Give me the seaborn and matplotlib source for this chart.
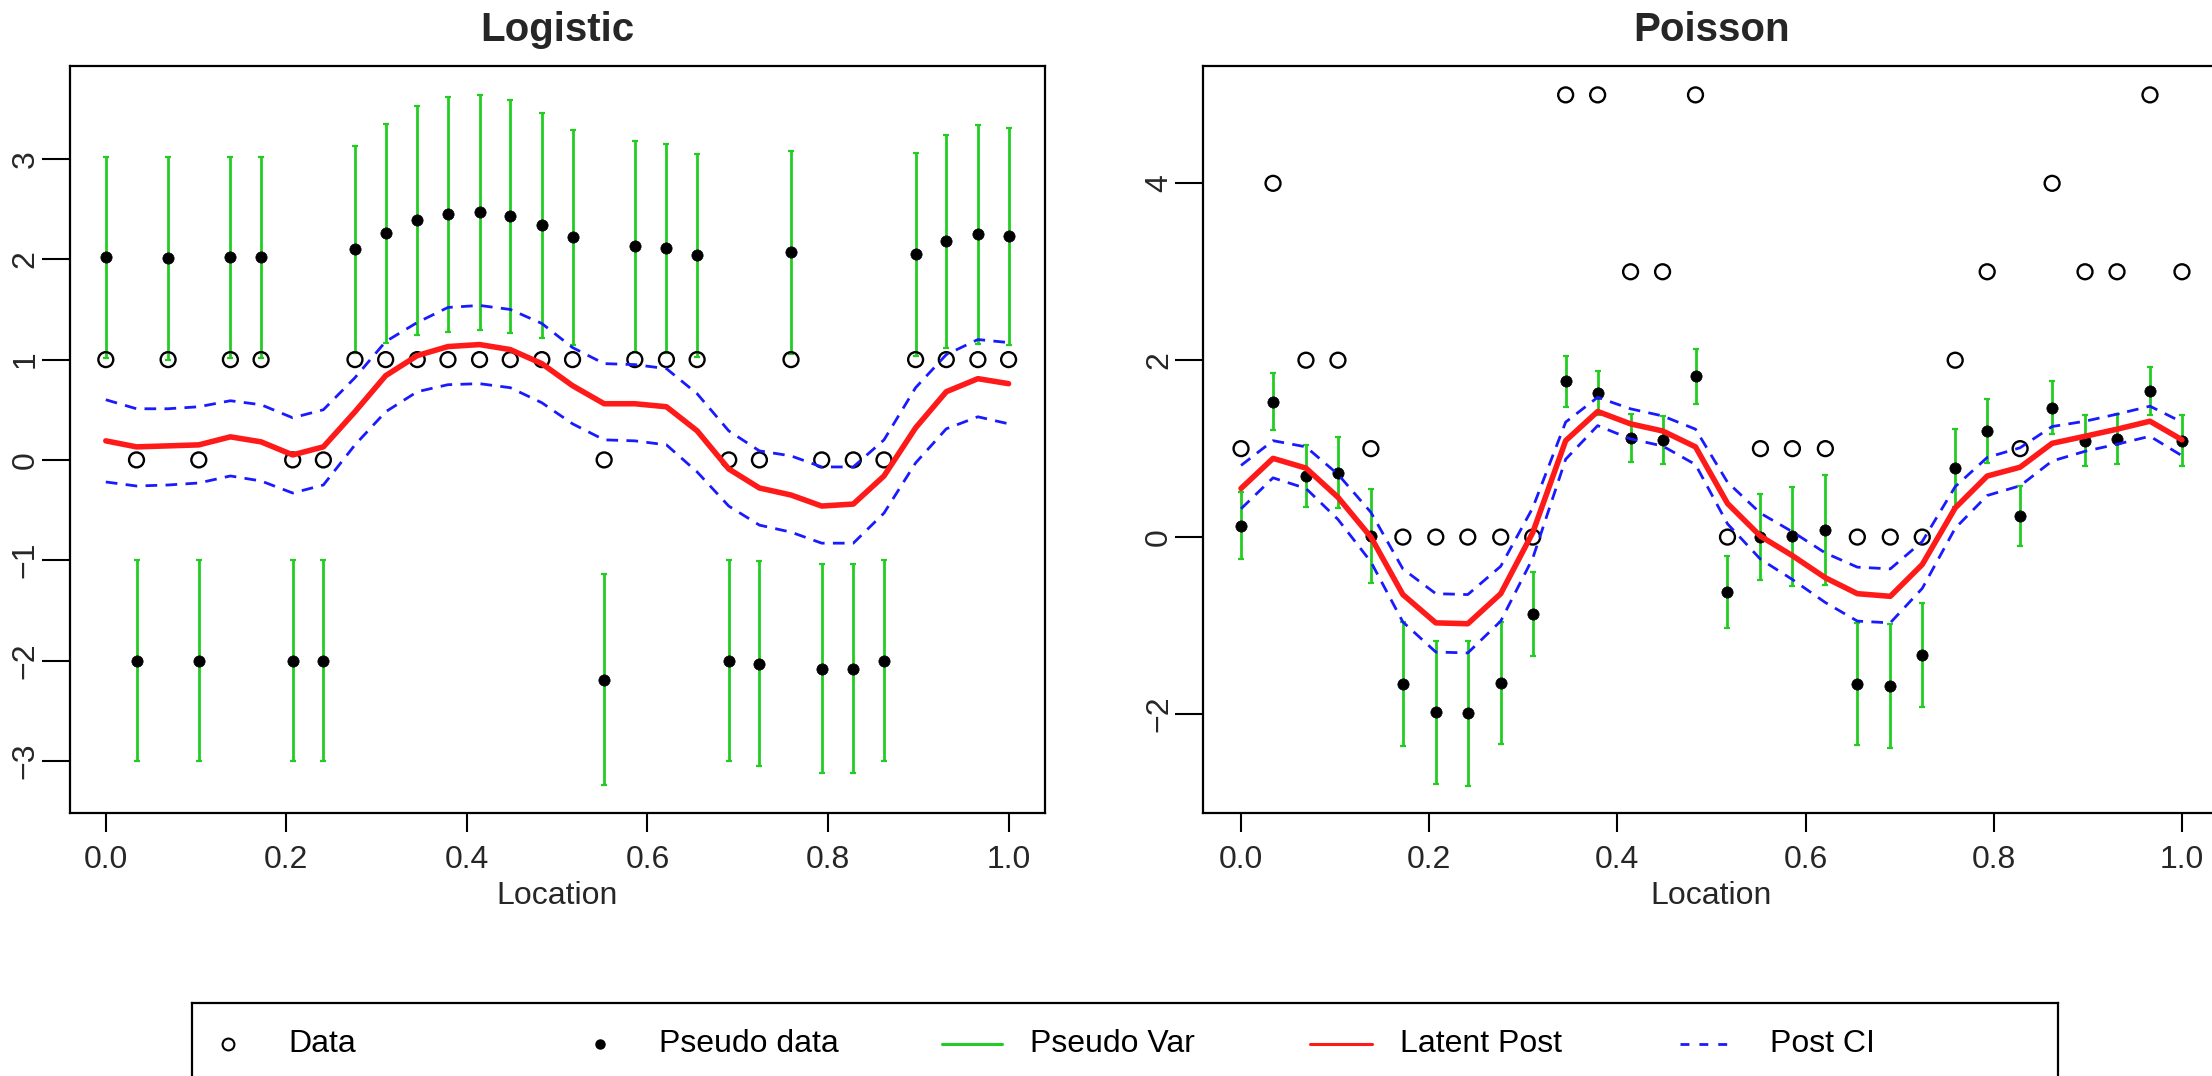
import numpy as np
import pandas as pd
import matplotlib
matplotlib.use("Agg")
import matplotlib.pyplot as plt
import seaborn as sns

# ---------------- data ----------------
location = [0.000, 0.034, 0.069, 0.103, 0.138, 0.172, 0.207, 0.241, 0.276, 0.310,
            0.345, 0.379, 0.414, 0.448, 0.483, 0.517, 0.552, 0.586, 0.621, 0.655,
            0.690, 0.724, 0.759, 0.793, 0.828, 0.862, 0.897, 0.931, 0.966, 1.000]

log_data = [1, 0, 1, 0, 1, 1, 0, 0, 1, 1, 1, 1, 1, 1, 1, 1, 0, 1, 1, 1,
            0, 0, 1, 0, 0, 0, 1, 1, 1, 1]
log_pseudo = [2.02, -2.00, 2.01, -2.00, 2.02, 2.02, -2.00, -2.00, 2.10, 2.26,
              2.39, 2.45, 2.47, 2.43, 2.34, 2.22, -2.19, 2.13, 2.11, 2.04,
              -2.00, -2.03, 2.07, -2.08, -2.08, -2.00, 2.05, 2.18, 2.25, 2.23]
log_pseudo_sd = [1.00, 1.00, 1.01, 1.00, 1.00, 1.00, 1.00, 1.00, 1.03, 1.09,
                 1.14, 1.17, 1.17, 1.16, 1.12, 1.07, 1.05, 1.05, 1.04, 1.01,
                 1.00, 1.02, 1.01, 1.04, 1.04, 1.00, 1.01, 1.06, 1.09, 1.08]
log_latent = [0.19, 0.13, 0.14, 0.15, 0.23, 0.18, 0.05, 0.13, 0.48, 0.84,
              1.04, 1.13, 1.15, 1.10, 0.96, 0.74, 0.56, 0.56, 0.53, 0.29,
              -0.09, -0.28, -0.35, -0.46, -0.44, -0.16, 0.32, 0.68, 0.81, 0.76]
log_upper = [0.60, 0.51, 0.51, 0.53, 0.59, 0.55, 0.42, 0.50, 0.82, 1.18,
             1.37, 1.52, 1.54, 1.50, 1.36, 1.12, 0.96, 0.95, 0.91, 0.66,
             0.29, 0.09, 0.04, -0.07, -0.07, 0.20, 0.72, 1.05, 1.20, 1.17]
log_lower = [-0.22, -0.26, -0.25, -0.23, -0.16, -0.21, -0.33, -0.25, 0.15, 0.48,
             0.68, 0.75, 0.76, 0.72, 0.57, 0.36, 0.20, 0.19, 0.15, -0.12,
             -0.46, -0.65, -0.72, -0.83, -0.83, -0.53, -0.03, 0.31, 0.43, 0.36]

poi_data = [1, 4, 2, 2, 1, 0, 0, 0, 0, 0, 5, 5, 3, 3, 5, 0, 1, 1, 1, 0,
            0, 0, 2, 3, 1, 4, 3, 3, 5, 3]
poi_pseudo = [0.13, 1.53, 0.69, 0.73, 0.01, -1.66, -1.98, -1.99, -1.65, -0.87,
              1.76, 1.63, 1.12, 1.10, 1.82, -0.62, 0.00, 0.01, 0.08, -1.66,
              -1.68, -1.33, 0.78, 1.20, 0.24, 1.46, 1.09, 1.11, 1.65, 1.09]
poi_pseudo_sd = [0.38, 0.32, 0.35, 0.40, 0.53, 0.70, 0.81, 0.82, 0.69, 0.47,
                 0.29, 0.25, 0.27, 0.27, 0.31, 0.41, 0.49, 0.56, 0.62, 0.69,
                 0.70, 0.59, 0.44, 0.36, 0.34, 0.30, 0.29, 0.28, 0.27, 0.29]
poi_latent = [0.55, 0.89, 0.78, 0.45, 0.00, -0.65, -0.97, -0.98, -0.64, 0.05,
              1.09, 1.42, 1.28, 1.20, 1.02, 0.38, 0.01, -0.21, -0.46, -0.64,
              -0.67, -0.31, 0.33, 0.69, 0.79, 1.06, 1.14, 1.22, 1.31, 1.10]
poi_upper = [0.81, 1.09, 1.02, 0.71, 0.28, -0.36, -0.64, -0.65, -0.33, 0.33,
             1.30, 1.58, 1.45, 1.37, 1.22, 0.62, 0.27, 0.06, -0.18, -0.34,
             -0.36, -0.05, 0.57, 0.90, 1.01, 1.25, 1.31, 1.39, 1.48, 1.30]
poi_lower = [0.32, 0.67, 0.55, 0.20, -0.28, -0.96, -1.30, -1.31, -0.95, -0.24,
             0.88, 1.26, 1.11, 1.03, 0.82, 0.15, -0.25, -0.48, -0.74, -0.95,
             -0.97, -0.58, 0.10, 0.47, 0.58, 0.86, 0.97, 1.05, 1.14, 0.92]

x_ticks = [0.0, 0.2, 0.4, 0.6, 0.8, 1.0]
x_tick_labels = ["0.0", "0.2", "0.4", "0.6", "0.8", "1.0"]
log_y_ticks = [-3, -2, -1, 0, 1, 2, 3]
poi_y_ticks = [-2, 0, 2, 4]
legend_labels = ["Data", "Pseudo data", "Pseudo Var", "Latent Post", "Post CI"]

# ---------------- style ----------------
sns.set_style("ticks")
plt.rcParams["font.family"] = ["Liberation Sans", "DejaVu Sans"]
plt.rcParams["axes.linewidth"] = 1.6
plt.rcParams["axes.edgecolor"] = "black"

GREEN = "#22CC22"
RED = "#FF1A1A"
BLUE = "#1A1AFF"

W, H = 2212, 1076
fig = plt.figure(figsize=(W / 100, H / 100), dpi=100)


def px_axes(left, right, top, bottom):
    return fig.add_axes([left / W, (H - bottom) / H, (right - left) / W, (bottom - top) / H])


def minus(v):
    return str(v).replace("-", "\u2212")


def panel(ax, data, pseudo, sd, latent, lower, upper, title, ylim, yticks):
    df = pd.DataFrame({"loc": location, "data": data, "pseudo": pseudo, "sd": sd,
                       "latent": latent, "lower": lower, "upper": upper})
    sns.scatterplot(data=df, x="loc", y="data", marker="o", s=115,
                    facecolor="none", edgecolor="black", linewidth=1.7,
                    ax=ax, zorder=3, legend=False)
    ax.errorbar(df["loc"], df["pseudo"], yerr=df["sd"], fmt="none", ecolor=GREEN,
                elinewidth=2.0, capsize=2.2, capthick=1.6, zorder=2)
    sns.scatterplot(data=df, x="loc", y="pseudo", marker="o", s=66, color="black",
                    edgecolor="black", linewidth=0.5, ax=ax, zorder=4, legend=False)
    sns.lineplot(data=df, x="loc", y="latent", color=RED, linewidth=4.0, ax=ax,
                 sort=False, estimator=None, errorbar=None, zorder=5, legend=False)
    for col in ["upper", "lower"]:
        sns.lineplot(data=df, x="loc", y=col, color=BLUE, linewidth=2.0,
                     linestyle=(0, (4.2, 3.0)), ax=ax, sort=False, estimator=None,
                     errorbar=None, zorder=5, legend=False)
    ax.set_xlim(-0.04, 1.04)
    ax.set_ylim(*ylim)
    ax.set_xticks(x_ticks)
    ax.set_xticklabels(x_tick_labels)
    ax.set_yticks(yticks)
    ax.set_yticklabels([minus(v) for v in yticks], rotation=90, va="center")
    ax.tick_params(axis="x", length=14, width=1.5, labelsize=23, pad=9, color="black")
    ax.tick_params(axis="y", length=20, width=1.5, labelsize=23, pad=1, color="black")
    ax.set_xlabel("Location", fontsize=23, labelpad=4)
    ax.set_ylabel("")
    ax.set_title(title, fontsize=29, fontweight="bold", pad=18)
    for s in ax.spines.values():
        s.set_visible(True)
        s.set_linewidth(1.6)
        s.set_color("black")


ax1 = px_axes(69.7, 1044.7, 65.7, 813)
panel(ax1, log_data, log_pseudo, log_pseudo_sd, log_latent, log_lower, log_upper,
      "Logistic", (-3.52, 3.93), log_y_ticks)

ax2 = px_axes(1203.4, 2219.6, 65.7, 813)
panel(ax2, poi_data, poi_pseudo, poi_pseudo_sd, poi_latent, poi_lower, poi_upper,
      "Poisson", (-3.12, 5.33), poi_y_ticks)

# ---------------- legend (drawn in a pixel-coordinate box) ----------------
lax = fig.add_axes([192 / W, -0.1, (2058 - 192) / W, 0.1 + (H - 1003) / H])
lax.set_xlim(192, 2058)
lax.set_ylim(-0.1 * H, H - 1003)
lax.set_xticks([])
lax.set_yticks([])
lax.set_facecolor("white")
for s in lax.spines.values():
    s.set_linewidth(1.6)
    s.set_color("black")
yk = H - 1044
lax.plot([228], [yk], marker="o", markersize=8.5, mfc="none", mec="black", mew=1.5, ls="none")
lax.plot([600], [yk], marker="o", markersize=6.5, color="black", ls="none")
lax.plot([942, 1002], [yk, yk], color=GREEN, lw=2.2)
lax.plot([1310, 1372], [yk, yk], color=RED, lw=2.2)
lax.plot([1680, 1732], [yk, yk], color=BLUE, lw=2.0, ls=(0, (3.2, 3.6)))
for xt, lab in zip([288, 659, 1030, 1400, 1770], legend_labels):
    lax.text(xt, yk, lab, fontsize=23, va="center", ha="left", color="black")

fig.savefig("out.png", dpi=100)
